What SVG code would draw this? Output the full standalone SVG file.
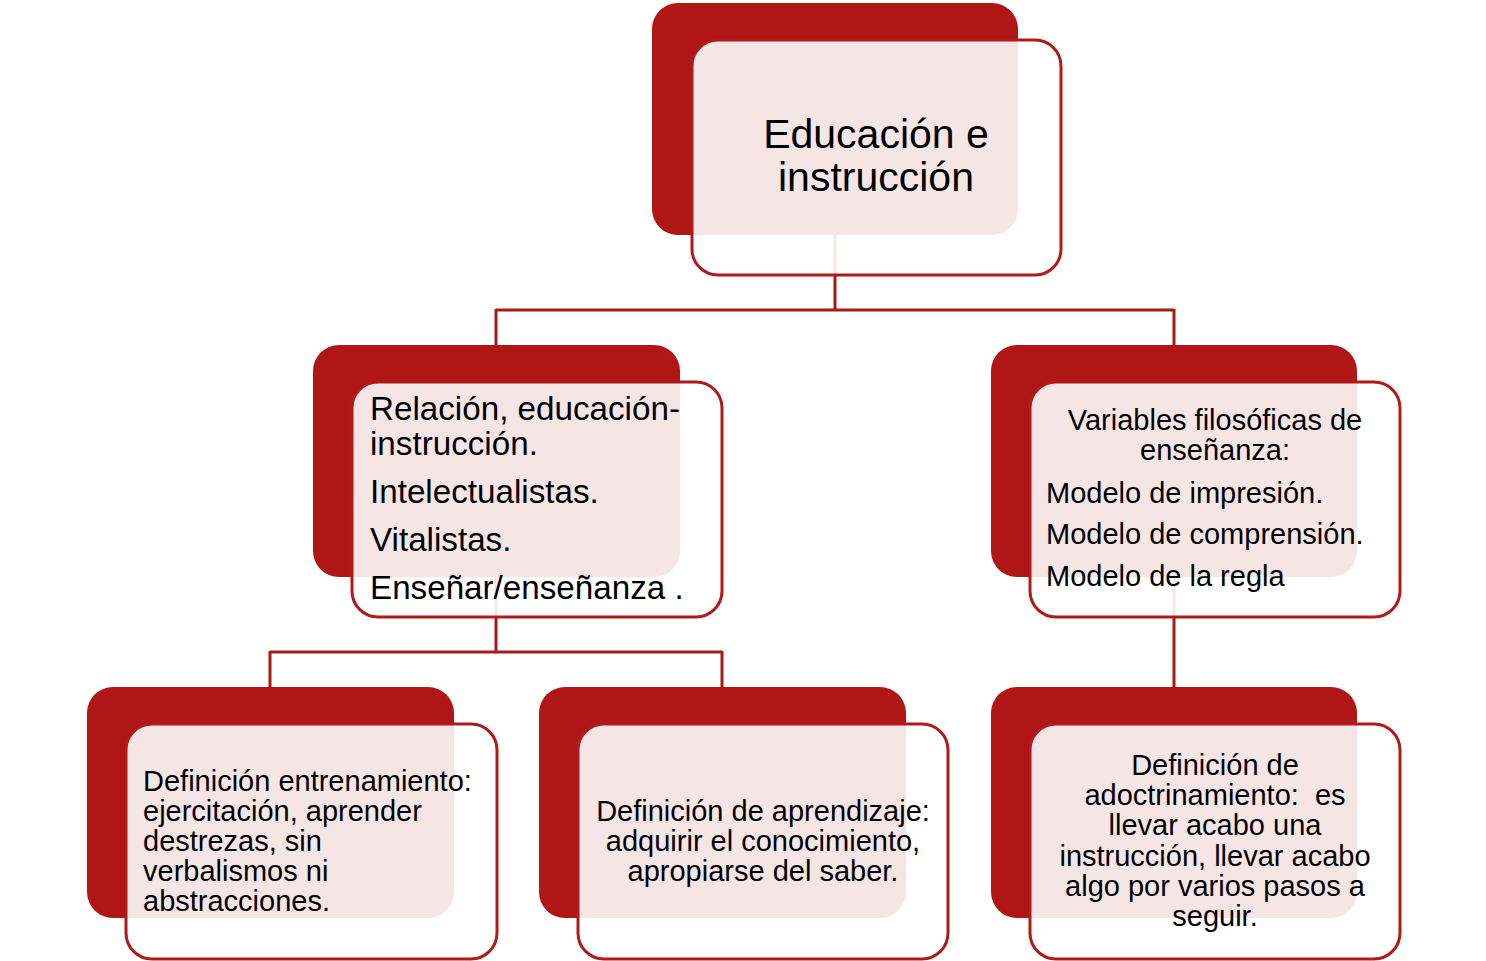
<svg xmlns="http://www.w3.org/2000/svg" width="1486" height="961" viewBox="0 0 1486 961">
<style>
.back{fill:#AF1615;}
.front{fill:#FFFFFF;fill-opacity:0.89;stroke:#B01A1A;stroke-width:3;}
.conn{fill:none;stroke:#A81A1A;stroke-width:3;}
text{font-family:"Liberation Sans",Arial,sans-serif;fill:#000000;}
.c{text-anchor:middle;}
</style>
<rect width="1486" height="961" fill="#FFFFFF"/>
<g id="connectors">
<path class="conn" d="M835,235 V310 M496,310 H1174 M496,309 V345 M1174,309 V345"/>
<path class="conn" d="M496,577 V652 M270,652 H722 M270,651 V687 M722,651 V687"/>
<path class="conn" d="M1174,577 V687"/>
</g>
<g id="node-top">
<rect class="back" x="652" y="3" width="366" height="232" rx="26"/>
<rect class="front" x="692" y="40" width="369" height="235" rx="26"/>
<text class="c" font-size="41" x="876" y="148">Educación e</text>
<text class="c" font-size="41" x="876" y="191">instrucción</text>
</g>
<g id="node-relacion">
<rect class="back" x="313" y="345" width="367" height="232" rx="26"/>
<rect class="front" x="352" y="382" width="370" height="235" rx="26"/>
<text font-size="33.2" x="370" y="420">Relación, educación-</text>
<text font-size="33.2" x="370" y="455">instrucción.</text>
<text font-size="33.2" x="370" y="503">Intelectualistas.</text>
<text font-size="33.2" x="370" y="551">Vitalistas.</text>
<text font-size="33.2" x="370" y="599">Enseñar/enseñanza .</text>
</g>
<g id="node-variables">
<rect class="back" x="991" y="345" width="366" height="232" rx="26"/>
<rect class="front" x="1030" y="382" width="370" height="235" rx="26"/>
<text class="c" font-size="29" x="1215" y="430">Variables filosóficas de</text>
<text class="c" font-size="29" x="1215" y="460">enseñanza:</text>
<text font-size="29" x="1046" y="503">Modelo de impresión.</text>
<text font-size="29" x="1046" y="544">Modelo de comprensión.</text>
<text font-size="29" x="1046" y="586">Modelo de la regla</text>
</g>
<g id="node-entrenamiento">
<rect class="back" x="87" y="687" width="367" height="231" rx="26"/>
<rect class="front" x="126" y="724" width="371" height="235" rx="26"/>
<text font-size="29" x="143" y="791">Definición entrenamiento:</text>
<text font-size="29" x="143" y="821">ejercitación, aprender</text>
<text font-size="29" x="143" y="851">destrezas, sin</text>
<text font-size="29" x="143" y="881">verbalismos ni</text>
<text font-size="29" x="143" y="911">abstracciones.</text>
</g>
<g id="node-aprendizaje">
<rect class="back" x="539" y="687" width="367" height="231" rx="26"/>
<rect class="front" x="578" y="724" width="370" height="235" rx="26"/>
<text class="c" font-size="29" x="763" y="821">Definición de aprendizaje:</text>
<text class="c" font-size="29" x="763" y="851">adquirir el conocimiento,</text>
<text class="c" font-size="29" x="763" y="881">apropiarse del saber.</text>
</g>
<g id="node-adoctrinamiento">
<rect class="back" x="991" y="687" width="366" height="231" rx="26"/>
<rect class="front" x="1030" y="724" width="370" height="235" rx="26"/>
<text class="c" font-size="29" x="1215" y="775">Definición de</text>
<text class="c" font-size="29" x="1215" y="805" xml:space="preserve">adoctrinamiento:  es</text>
<text class="c" font-size="29" x="1215" y="835">llevar acabo una</text>
<text class="c" font-size="29" x="1215" y="866">instrucción, llevar acabo</text>
<text class="c" font-size="29" x="1215" y="896">algo por varios pasos a</text>
<text class="c" font-size="29" x="1215" y="926">seguir.</text>
</g>
</svg>
